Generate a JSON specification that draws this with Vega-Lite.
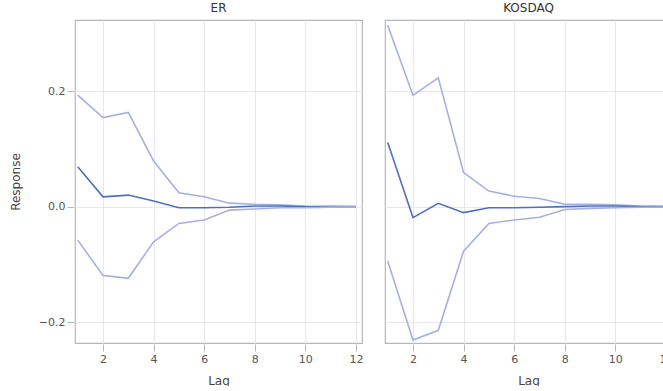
{
  "$schema": "https://vega.github.io/schema/vega-lite/v6.json",
  "autosize": {"type": "pad"},
  "padding": {"left": 9, "top": 2, "right": 0, "bottom": 0},
  "background": "white",
  "config": {
    "font": "DejaVu Sans",
    "view": {"stroke": "#b4b8bc", "strokeWidth": 1.2},
    "facet": {"spacing": 21},
    "axis": {"gridColor": "#e8e8ec", "domain": false, "tickColor": "#b4b8bc", "tickSize": 7, "labelColor": "#555", "labelFontSize": 11, "titleColor": "#444", "titleFontSize": 12, "titleFontWeight": "normal"}
  },
  "data": {"values": [
    {"market":"ER","lag":1,"series":"upper","value":0.193},
    {"market":"ER","lag":2,"series":"upper","value":0.154},
    {"market":"ER","lag":3,"series":"upper","value":0.163},
    {"market":"ER","lag":4,"series":"upper","value":0.079},
    {"market":"ER","lag":5,"series":"upper","value":0.024},
    {"market":"ER","lag":6,"series":"upper","value":0.017},
    {"market":"ER","lag":7,"series":"upper","value":0.006},
    {"market":"ER","lag":8,"series":"upper","value":0.004},
    {"market":"ER","lag":9,"series":"upper","value":0.003},
    {"market":"ER","lag":10,"series":"upper","value":0.001},
    {"market":"ER","lag":11,"series":"upper","value":0.0005},
    {"market":"ER","lag":12,"series":"upper","value":0.0003},
    {"market":"ER","lag":1,"series":"response","value":0.069},
    {"market":"ER","lag":2,"series":"response","value":0.017},
    {"market":"ER","lag":3,"series":"response","value":0.020},
    {"market":"ER","lag":4,"series":"response","value":0.0097},
    {"market":"ER","lag":5,"series":"response","value":-0.002},
    {"market":"ER","lag":6,"series":"response","value":-0.002},
    {"market":"ER","lag":7,"series":"response","value":-0.001},
    {"market":"ER","lag":8,"series":"response","value":0.001},
    {"market":"ER","lag":9,"series":"response","value":0.001},
    {"market":"ER","lag":10,"series":"response","value":-0.0005},
    {"market":"ER","lag":11,"series":"response","value":0},
    {"market":"ER","lag":12,"series":"response","value":0},
    {"market":"ER","lag":1,"series":"lower","value":-0.058},
    {"market":"ER","lag":2,"series":"lower","value":-0.119},
    {"market":"ER","lag":3,"series":"lower","value":-0.124},
    {"market":"ER","lag":4,"series":"lower","value":-0.061},
    {"market":"ER","lag":5,"series":"lower","value":-0.029},
    {"market":"ER","lag":6,"series":"lower","value":-0.023},
    {"market":"ER","lag":7,"series":"lower","value":-0.006},
    {"market":"ER","lag":8,"series":"lower","value":-0.004},
    {"market":"ER","lag":9,"series":"lower","value":-0.002},
    {"market":"ER","lag":10,"series":"lower","value":-0.002},
    {"market":"ER","lag":11,"series":"lower","value":-0.0008},
    {"market":"ER","lag":12,"series":"lower","value":-0.0003},
    {"market":"KOSDAQ","lag":1,"series":"upper","value":0.314},
    {"market":"KOSDAQ","lag":2,"series":"upper","value":0.1926},
    {"market":"KOSDAQ","lag":3,"series":"upper","value":0.223},
    {"market":"KOSDAQ","lag":4,"series":"upper","value":0.059},
    {"market":"KOSDAQ","lag":5,"series":"upper","value":0.027},
    {"market":"KOSDAQ","lag":6,"series":"upper","value":0.018},
    {"market":"KOSDAQ","lag":7,"series":"upper","value":0.014},
    {"market":"KOSDAQ","lag":8,"series":"upper","value":0.004},
    {"market":"KOSDAQ","lag":9,"series":"upper","value":0.004},
    {"market":"KOSDAQ","lag":10,"series":"upper","value":0.003},
    {"market":"KOSDAQ","lag":11,"series":"upper","value":0.001},
    {"market":"KOSDAQ","lag":12,"series":"upper","value":0.0005},
    {"market":"KOSDAQ","lag":1,"series":"response","value":0.111},
    {"market":"KOSDAQ","lag":2,"series":"response","value":-0.019},
    {"market":"KOSDAQ","lag":3,"series":"response","value":0.0057},
    {"market":"KOSDAQ","lag":4,"series":"response","value":-0.0104},
    {"market":"KOSDAQ","lag":5,"series":"response","value":-0.002},
    {"market":"KOSDAQ","lag":6,"series":"response","value":-0.002},
    {"market":"KOSDAQ","lag":7,"series":"response","value":-0.001},
    {"market":"KOSDAQ","lag":8,"series":"response","value":0},
    {"market":"KOSDAQ","lag":9,"series":"response","value":0.001},
    {"market":"KOSDAQ","lag":10,"series":"response","value":0.001},
    {"market":"KOSDAQ","lag":11,"series":"response","value":0},
    {"market":"KOSDAQ","lag":12,"series":"response","value":0},
    {"market":"KOSDAQ","lag":1,"series":"lower","value":-0.094},
    {"market":"KOSDAQ","lag":2,"series":"lower","value":-0.231},
    {"market":"KOSDAQ","lag":3,"series":"lower","value":-0.214},
    {"market":"KOSDAQ","lag":4,"series":"lower","value":-0.077},
    {"market":"KOSDAQ","lag":5,"series":"lower","value":-0.029},
    {"market":"KOSDAQ","lag":6,"series":"lower","value":-0.023},
    {"market":"KOSDAQ","lag":7,"series":"lower","value":-0.0185},
    {"market":"KOSDAQ","lag":8,"series":"lower","value":-0.005},
    {"market":"KOSDAQ","lag":9,"series":"lower","value":-0.003},
    {"market":"KOSDAQ","lag":10,"series":"lower","value":-0.002},
    {"market":"KOSDAQ","lag":11,"series":"lower","value":-0.001},
    {"market":"KOSDAQ","lag":12,"series":"lower","value":-0.0005}
  ]},
  "facet": {"column": {"field": "market", "type": "nominal", "title": null,
    "header": {"labelFontSize": 12, "labelColor": "#333", "labelPadding": 4, "labelFont": "DejaVu Sans", "labelFontWeight": "normal"}}},
  "spec": {
    "width": 287,
    "height": 323,
    "mark": {"type": "line", "strokeWidth": 1.6, "clip": true},
    "encoding": {
      "x": {"field": "lag", "type": "quantitative", "title": "Lag",
        "scale": {"domain": [0.893, 12.24], "nice": false, "zero": false},
        "axis": {"values": [2,4,6,8,10,12], "titlePadding": 11}},
      "y": {"field": "value", "type": "quantitative", "title": "Response",
        "scale": {"domain": [-0.236, 0.323], "nice": false, "zero": false},
        "axis": {"values": [-0.2, 0, 0.2], "format": ".1f", "titlePadding": 16}},
      "detail": {"field": "series"},
      "color": {"field": "series", "type": "nominal", "legend": null,
        "scale": {"domain": ["upper", "response", "lower"], "range": ["#a4b1e2", "#4f6fc2", "#a4b1e2"]}}
    }
  }
}
